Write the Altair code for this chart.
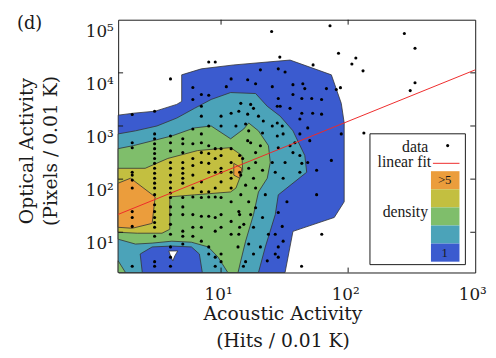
import altair as alt
import pandas as pd

# ---------------- data ----------------
X_DOMAIN = [1.55, 1000]
Y_DOMAIN = [1.75, 100000]
x_tick_values = [10, 100, 1000]
y_tick_values = [10, 100, 1000, 10000, 100000]

# scatter points (Acoustic hits, Optical pixels)
points = [
    # sparse points outside the density contours
    (25, 60000), (72, 77000), (84, 23400), (107, 14700), (115, 19000), (131, 10900),
    (277, 55000), (336, 29000), (336, 6500), (308, 4640), (133, 740), (29, 19800),
    (53, 14100), (87, 5270), (62, 9.2), (43, 2.3), (8, 16000), (9, 16000), (4, 7700),
    # right part, outer contour
    (20.4, 11400), (28.2, 11900), (31.9, 10400), (16.2, 7400), (18.7, 6250), (25.3, 5500),
    (36.8, 6000), (44, 6250), (45.6, 5060), (67.5, 5060), (80.7, 4850), (28.2, 3300),
    (36.8, 3910), (43.2, 3300), (51.7, 3300), (61.8, 3160), (29.2, 2350), (34.9, 2150),
    (43.2, 1740), (52.6, 1740), (61.8, 1670), (48.1, 920), (41.7, 1350), (27.7, 1140),
    (30.8, 710), (41.7, 710), (49.9, 530), (88.3, 710), (38.1, 485), (73.8, 225),
    (56.5, 147), (48.1, 206), (41.7, 278), (33, 37.5), (56.5, 51), (28.2, 23.5),
    (30.3, 12.9), (26.7, 9.2), (30.8, 6.8), (28.2, 5.3), (26.7, 3.9), (28.2, 3.4),
    # right part, second contour
    (14.3, 2670), (17.1, 2550), (18, 2150), (13.8, 1900), (16.2, 1670), (19.7, 1530),
    (21.5, 1240), (27.7, 2350), (25.3, 1000), (30.3, 1000), (27.7, 650), (34.9, 425),
    (28.2, 390), (36.8, 316), (31.9, 206), (43.2, 198), (41.7, 135), (30.8, 104),
    (26.7, 135), (25.3, 206), (21.2, 740), (18.7, 68), (22.3, 51), (18.7, 29),
    (17.1, 21.5), (21.2, 19), (18, 12.4), (23.6, 9.2), (16.5, 6), (20.4, 5.3),
    (18, 3.9), (15.6, 2.8), (23.1, 2.9),
    # right part, third contour
    (13.1, 1000), (15.6, 1090), (16.5, 810), (16.2, 530), (17.1, 485), (20.4, 425),
    (18.7, 316), (14.8, 245), (18.7, 206), (16.5, 160), (21.2, 147), (14.3, 119),
    (18, 104), (15.6, 77), (14.3, 51), (16.5, 37.5), (13.8, 24.5), (15.1, 14.1),
    (13.8, 9.2), (13.6, 5.3),
    # integer-valued columns on the left
    (2, 1650), (2, 485), (2, 390), (2, 135), (2, 119), (2, 96), (2, 68), (2, 24.5),
    (2, 19), (2, 12.9), (2, 2.3),
    (3, 1900), (3, 710), (3, 574), (3, 464), (3, 375), (3, 303), (3, 245), (3, 198),
    (3, 160), (3, 129), (3, 104), (3, 84), (3, 68), (3, 51), (3, 33), (3, 24.5),
    (3, 19), (3, 15.3), (3, 12.4), (3, 8.4), (3, 2.8), (3, 2.3),
    (4, 650), (4, 485), (4, 340), (4, 206), (4, 160), (4, 119), (4, 88), (4, 68),
    (4, 55), (4, 45), (4, 30), (4, 21.5), (4, 14.1), (4, 9.2), (4, 5.3), (4, 3.4), (4, 2.3),
    (5, 574), (5, 464), (5, 316), (5, 206), (5, 160), (5, 129), (5, 104), (5, 84),
    (5, 45), (5, 30), (5, 21.5), (5, 10.5), (5, 8.4), (5, 6),
    (6, 5300), (6, 3160), (6, 880), (6, 464), (6, 245), (6, 180), (6, 119), (6, 68),
    (6, 46), (6, 21.5), (6, 12.4), (6, 8.4),
    (7, 3910), (7, 2350), (7, 1530), (7, 710), (7, 485), (7, 316), (7, 206), (7, 89),
    (7, 58), (7, 45), (7, 20), (7, 12.4), (7, 6.8),
    (8, 3800), (8, 1000), (8, 425), (8, 303), (8, 198), (8, 135), (8, 58), (8, 46),
    (8, 20), (8, 5.3), (8, 3.9),
    (9, 375), (9, 245), (9, 135), (9, 68), (9, 46), (9, 19), (9, 10.5), (9, 3.4), (9, 2.3),
    (10, 1530), (10, 1000), (10, 375), (10, 278), (10, 160), (10, 135), (10, 89),
    (10, 45), (10, 21.5), (10, 12.4), (10, 3.9), (10, 2.8),
    (11, 5500), (12, 7700), (12, 1740), (12, 375), (12, 206), (12, 135), (12, 104),
    (12, 68), (12, 37.5), (12, 16), (12, 9.2),
    (14, 278), (14, 135), (14, 21.5), (14, 12.4), (15, 2.3),
]

# linear fit (log-log) end points
fit_x = [1.55, 1000]
fit_y = [21.7, 11380]

# density contour polygons, in drawing order
level_colors = {"1": "#3b5bcf", "2": "#4ba3b9", "3": "#7fbe6b",
                "4": "#c3bf40", "5": "#eb9d3c", "0": "#ffffff"}
contours = [
    ("1", [(1.55, 1600), (2.04, 1740), (3.03, 1900), (4.48, 2550), (4.9, 2900), (4.9, 9180),
           (7.0, 11900), (12.6, 14100), (34.9, 17400), (73.8, 9180), (88.3, 2670),
           (93.1, 1140), (93.1, 37.5), (77.8, 19), (36.8, 10.4), (31.9, 1.75), (1.55, 1.75)]),
    ("2", [(1.55, 710), (2.12, 810), (3.13, 1000), (4.48, 1410), (6.18, 2150), (8.36, 3160),
           (11.9, 4260), (18.7, 4080), (23.1, 2350), (29.2, 1530), (36.8, 810), (45.6, 278),
           (47.2, 135), (28.2, 50.6), (26.7, 21.5), (22.3, 5.3), (19.7, 1.75), (1.55, 1.75)]),
    ("3", [(1.55, 375), (2.04, 427), (4.1, 650), (6.18, 920), (8.36, 1000), (11.9, 574),
           (15.1, 880), (16.5, 1140), (19.7, 810), (23.6, 427), (24.4, 206), (23.1, 104),
           (19.7, 57.4), (18, 21.5), (15.6, 6.8), (14.3, 2.9), (13.6, 1.75), (11.3, 1.75),
           (9.48, 3.4), (7.93, 5.3), (5.85, 6.5), (4.1, 6.8), (2.87, 6.25), (2.12, 6.0),
           (1.55, 7.4)]),
    ("3", [(1.55, 2.9), (1.77, 1.75), (1.55, 1.75)]),
    ("4", [(1.55, 160), (2.53, 160), (3.81, 245), (6.52, 344), (11.9, 392), (14.6, 278),
           (14.8, 147), (13.1, 68), (11.9, 57.4), (6.18, 50.6), (3.95, 46.4), (3.95, 11.4),
           (3.43, 9.6), (2.19, 9.6), (1.55, 10)]),
    ("5", [(1.55, 84), (1.94, 104), (3.03, 46.4), (2.87, 14.7), (2.0, 11.9), (1.55, 12.4)]),
    ("5", [(12.6, 198), (14.6, 160), (14.0, 104), (12.6, 119)]),
    ("1", [(2.31, 3.9), (2.87, 5.3), (4.1, 5.5), (5.85, 5.3), (6.75, 3.9), (7.12, 1.75),
           (2.4, 1.75)]),
    ("0", [(3.88, 4.45), (4.56, 4.45), (4.33, 3.6), (4.17, 2.9), (4.0, 3.6)]),
]

legend_levels = ["5", "4", "3", "2", "1"]

# ---------------- chart ----------------
W, H = 363, 257
FONT = "Liberation Serif"
AXFONT = "DejaVu Serif"
INK = "#1a1a1a"

xs = alt.Scale(type="log", domain=X_DOMAIN, nice=False)
ys = alt.Scale(type="log", domain=Y_DOMAIN, nice=False)

sup = "['\u2070','\u00b9','\u00b2','\u00b3','\u2074','\u2075'][round(log(datum.value)/LN10)]"
x_axis = alt.Axis(values=x_tick_values, labelExpr="'10' + " + sup, ticks=False, domain=False,
                  grid=False, labelPadding=14, labelFlush=False, labelOverlap=False,
                  labelOffset=-3,
                  title=["Acoustic Activity", "(Hits / 0.01 K)"],
                  titleX=167, titleY=48, titleAlign="center", titleBaseline="alphabetic",
                  titleLineHeight=27)
y_axis = alt.Axis(values=y_tick_values, labelExpr="'10' + " + sup, ticks=False, domain=False,
                  grid=False, labelPadding=5, labelFlush=False, labelOverlap=False,
                  labelOffset=12, title=["Optical Activity", "(Pixels / 0.01 K)"],
                  titleX=-87, titleY=133, titleAngle=270, titleAlign="center",
                  titleBaseline="alphabetic", titleLineHeight=24)

layers = []
for k, (lvl, verts) in enumerate(contours):
    closed = verts + [verts[0]]
    df = pd.DataFrame({"x": [v[0] for v in closed], "y": [v[1] for v in closed],
                       "i": list(range(len(closed)))})
    layers.append(
        alt.Chart(df).mark_line(fill=level_colors[lvl], stroke="#333333", strokeWidth=0.8,
                                strokeJoin="round")
        .encode(x=alt.X("x:Q", scale=xs, axis=x_axis), y=alt.Y("y:Q", scale=ys, axis=y_axis),
                order="i:Q")
    )

pts_df = pd.DataFrame({"x": [p[0] for p in points], "y": [p[1] for p in points]})
layers.append(
    alt.Chart(pts_df).mark_circle(color="black", size=10, opacity=1)
    .encode(x=alt.X("x:Q", scale=xs, axis=x_axis), y=alt.Y("y:Q", scale=ys, axis=y_axis))
)

fit_df = pd.DataFrame({"x": fit_x, "y": fit_y})
layers.append(
    alt.Chart(fit_df).mark_line(color="#ee2a2a", strokeWidth=1)
    .encode(x=alt.X("x:Q", scale=xs, axis=x_axis), y=alt.Y("y:Q", scale=ys, axis=y_axis))
)

# inward ticks on all four sides
xt = pd.DataFrame({"v": x_tick_values[:-1]})
yt = pd.DataFrame({"v": y_tick_values[:-1]})
for y0, y1 in [(H, H - 5), (0, 5)]:
    layers.append(alt.Chart(xt).mark_rule(color=INK, strokeWidth=1)
                  .encode(x=alt.X("v:Q", scale=xs, axis=x_axis), y=alt.value(y0), y2=alt.value(y1)))
for x0, x1 in [(0, 5), (W, W - 5)]:
    layers.append(alt.Chart(yt).mark_rule(color=INK, strokeWidth=1)
                  .encode(y=alt.Y("v:Q", scale=ys, axis=y_axis), x=alt.value(x0), x2=alt.value(x1)))

# legend box
one = pd.DataFrame({"a": [0]})
layers.append(alt.Chart(one).mark_rect(fill="white", stroke=INK, strokeWidth=1)
              .encode(x=alt.value(256), x2=alt.value(353), y=alt.value(116), y2=alt.value(249)))
band = 92 / len(legend_levels)
for j, lvl in enumerate(legend_levels):
    layers.append(alt.Chart(one).mark_rect(fill=level_colors[lvl])
                  .encode(x=alt.value(318), x2=alt.value(347),
                          y=alt.value(154 + j * band), y2=alt.value(154 + (j + 1) * band)))
layers.append(alt.Chart(one).mark_text(text="data", font=FONT, fontSize=16, color=INK)
              .encode(x=alt.value(302), y=alt.value(129)))
layers.append(alt.Chart(one).mark_circle(color="black", size=10, opacity=1)
              .encode(x=alt.value(335), y=alt.value(128)))
layers.append(alt.Chart(one).mark_text(text="linear fit", font=FONT, fontSize=16, color=INK)
              .encode(x=alt.value(291), y=alt.value(145)))
layers.append(alt.Chart(one).mark_rule(color="#ee2a2a", strokeWidth=1)
              .encode(x=alt.value(320), x2=alt.value(347), y=alt.value(146)))
layers.append(alt.Chart(one).mark_text(text="density", font=FONT, fontSize=16, color=INK)
              .encode(x=alt.value(292), y=alt.value(196)))
layers.append(alt.Chart(one).mark_text(text=">5", font=FONT, fontSize=13, color=INK)
              .encode(x=alt.value(332), y=alt.value(163)))
layers.append(alt.Chart(one).mark_text(text="1", font=FONT, fontSize=13, color=INK)
              .encode(x=alt.value(332), y=alt.value(237)))
# panel label
layers.append(alt.Chart(one).mark_text(text="(d)", font=AXFONT, fontSize=18, color=INK)
              .encode(x=alt.value(-90), y=alt.value(4)))

chart = (
    alt.layer(*layers)
    .properties(width=W, height=H,
                autosize=alt.AutoSizeParams(type="none"),
                padding={"left": 112, "top": 9, "right": 13, "bottom": 83})
    .configure(background="white")
    .configure_view(stroke=INK, strokeWidth=1)
    .configure_axis(labelFont=AXFONT, titleFont=AXFONT, labelFontSize=17, titleFontSize=19,
                    titleFontWeight="normal", labelColor=INK, titleColor=INK)
)

chart.save("out.html", embed_options={"renderer": "svg", "actions": False})
